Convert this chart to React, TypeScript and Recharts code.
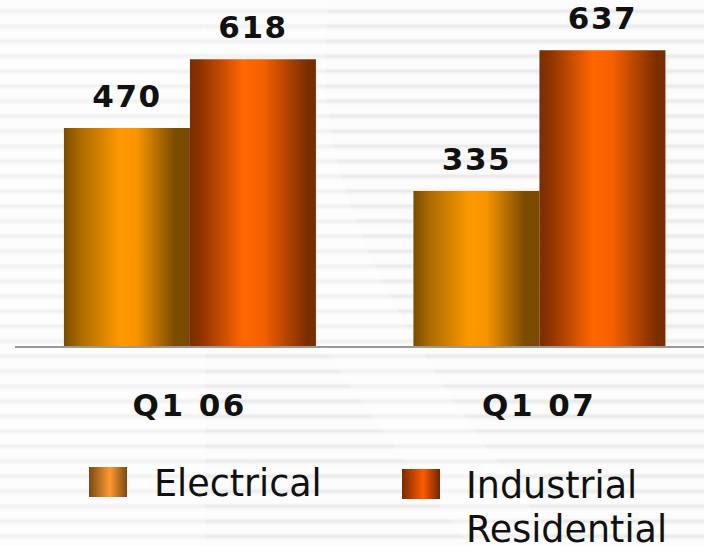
import { Bar, BarChart, LabelList, XAxis, YAxis } from "recharts";

const quarters = ["Q1 06", "Q1 07"];
const electrical = [470, 335];
const industrial = [618, 637];
const seriesNames = ["Electrical", "Industrial\nResidential"];

const data = quarters.map((q, i) => ({
  quarter: q,
  electrical: electrical[i],
  industrial: industrial[i],
}));

const labelStyle = {
  fontFamily: "DejaVu Sans",
  fontWeight: 700,
  fontSize: 31,
  letterSpacing: 1.5,
  fill: "#111",
};

function QuarterTick(props: any) {
  const { x, y, payload } = props;
  return (
    <text
      x={x}
      y={y + 69}
      textAnchor="middle"
      fontFamily="DejaVu Sans"
      fontWeight={700}
      fontSize={31}
      letterSpacing={2.5}
      fill="#111"
    >
      {payload.value}
    </text>
  );
}

const swatch = (id: string) =>
  id === "el"
    ? "linear-gradient(to right, #7a4a10, #ff9933 55%, #7a4a10)"
    : "linear-gradient(to right, #7a2a00, #ff5a00 55%, #6e2600)";

const legendText = {
  position: "absolute" as const,
  fontFamily: "DejaVu Sans",
  fontSize: 36.5,
  lineHeight: "44px",
  color: "#111",
  whiteSpace: "pre" as const,
};

export default function App() {
  return (
    <div
      style={{
        position: "absolute",
        left: 0,
        top: 0,
        width: 704,
        height: 546,
        overflow: "hidden",
        background:
          "repeating-linear-gradient(to bottom, #fcfcfc 0px, #fcfcfc 8px, #e9e9e9 11px, #fcfcfc 15px)",
      }}
    >
      {/* faint swoosh in the background */}
      <svg width={704} height={546} style={{ position: "absolute", left: 0, top: 0 }}>
        <rect x={0} y={0} width={205} height={546} fill="#ffffff" opacity={0.35} />
        <path
          d="M 205 0 C 190 200, 330 360, 470 546 L 560 546 C 420 360, 300 200, 330 0 Z"
          fill="#ffffff"
          opacity={0.3}
        />
      </svg>
      <BarChart
        width={720}
        height={546}
        data={data}
        margin={{ top: 21, right: 6, left: 15, bottom: 0 }}
        barCategoryGap="14%"
        barGap={0}
        style={{ position: "absolute", left: 0, top: 0 }}
      >
        <defs>
          <linearGradient id="gradEl" x1="0" y1="0" x2="1" y2="0">
            <stop offset="0%" stopColor="#7a4c00" />
            <stop offset="12%" stopColor="#a86a00" />
            <stop offset="45%" stopColor="#ff9900" />
            <stop offset="58%" stopColor="#f89400" />
            <stop offset="88%" stopColor="#7a4c00" />
            <stop offset="100%" stopColor="#7a4a00" />
          </linearGradient>
          <linearGradient id="gradInd" x1="0" y1="0" x2="1" y2="0">
            <stop offset="0%" stopColor="#7a2e00" />
            <stop offset="8%" stopColor="#8a3300" />
            <stop offset="42%" stopColor="#ff6600" />
            <stop offset="58%" stopColor="#f56000" />
            <stop offset="93%" stopColor="#7a2e00" />
            <stop offset="100%" stopColor="#7a2e00" />
          </linearGradient>
        </defs>
        <XAxis
          dataKey="quarter"
          height={199}
          tickLine={false}
          tickSize={0}
          tickMargin={0}
          axisLine={{ stroke: "#9a9a9a", strokeWidth: 2 }}
          tick={<QuarterTick />}
          interval={0}
        />
        <YAxis hide domain={[0, 700]} />
        <Bar dataKey="electrical" fill="url(#gradEl)" isAnimationActive={false}>
          <LabelList dataKey="electrical" position="top" offset={21} style={labelStyle} />
        </Bar>
        <Bar dataKey="industrial" fill="url(#gradInd)" isAnimationActive={false}>
          <LabelList dataKey="industrial" position="top" offset={21} style={labelStyle} />
        </Bar>
      </BarChart>
      {/* legend */}
      <div
        style={{
          position: "absolute",
          left: 89,
          top: 467,
          width: 38,
          height: 30,
          background: swatch("el"),
        }}
      />
      <div style={{ ...legendText, left: 154, top: 462 }}>{seriesNames[0]}</div>
      <div
        style={{
          position: "absolute",
          left: 402,
          top: 469,
          width: 38,
          height: 30,
          background: swatch("ind"),
        }}
      />
      <div style={{ ...legendText, left: 466, top: 464 }}>{seriesNames[1]}</div>
    </div>
  );
}
